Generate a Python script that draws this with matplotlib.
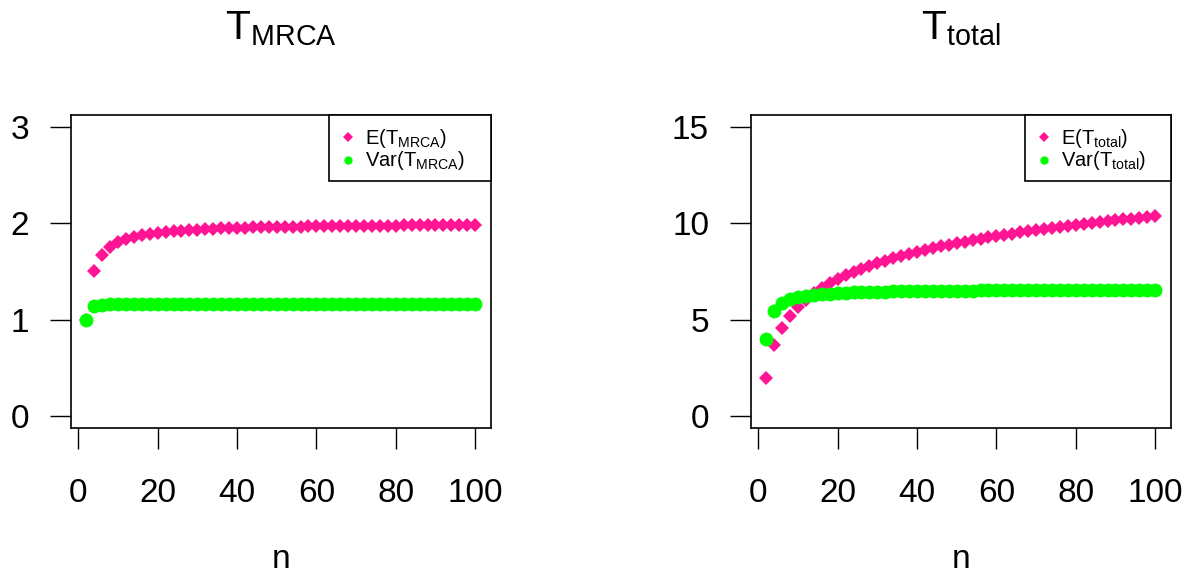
import matplotlib
matplotlib.use("Agg")
import matplotlib.pyplot as plt
from matplotlib.patches import Rectangle

plt.rcParams["font.family"] = "Liberation Sans"
plt.rcParams["mathtext.fontset"] = "custom"
plt.rcParams["mathtext.rm"] = "Liberation Sans"
plt.rcParams["mathtext.it"] = "Liberation Sans:italic"

# sample sizes
n = list(range(2, 101, 2))

# expected time to the most recent common ancestor and its variance
e_tmrca = [
    1.000, 1.500, 1.667, 1.750, 1.800, 1.833, 1.857, 1.875, 1.889, 1.900,
    1.909, 1.917, 1.923, 1.929, 1.933, 1.938, 1.941, 1.944, 1.947, 1.950,
    1.952, 1.955, 1.957, 1.958, 1.960, 1.962, 1.963, 1.964, 1.966, 1.967,
    1.968, 1.969, 1.970, 1.971, 1.971, 1.972, 1.973, 1.974, 1.974, 1.975,
    1.976, 1.976, 1.977, 1.977, 1.978, 1.978, 1.979, 1.979, 1.980, 1.980,
]
var_tmrca = [
    1.000, 1.139, 1.153, 1.157, 1.158, 1.159, 1.159, 1.159, 1.159, 1.159,
    1.159, 1.159, 1.159, 1.160, 1.160, 1.160, 1.160, 1.160, 1.160, 1.160,
    1.160, 1.160, 1.160, 1.160, 1.160, 1.160, 1.160, 1.160, 1.160, 1.160,
    1.160, 1.160, 1.160, 1.160, 1.160, 1.160, 1.160, 1.160, 1.160, 1.160,
    1.160, 1.160, 1.160, 1.160, 1.160, 1.160, 1.160, 1.160, 1.160, 1.160,
]

# total tree length and its variance
e_ttotal = [
    2.00, 3.67, 4.57, 5.19, 5.66, 6.04, 6.36, 6.64, 6.88, 7.10,
    7.29, 7.47, 7.63, 7.78, 7.92, 8.05, 8.18, 8.29, 8.40, 8.51,
    8.61, 8.70, 8.79, 8.88, 8.96, 9.04, 9.11, 9.19, 9.26, 9.33,
    9.39, 9.46, 9.52, 9.58, 9.64, 9.69, 9.75, 9.80, 9.86, 9.91,
    9.96, 10.00, 10.05, 10.10, 10.14, 10.19, 10.23, 10.27, 10.31, 10.35,
]
var_ttotal = [
    4.000, 5.444, 5.855, 6.047, 6.159, 6.232, 6.284, 6.322, 6.351, 6.375,
    6.394, 6.410, 6.423, 6.434, 6.444, 6.453, 6.460, 6.467, 6.473, 6.479,
    6.483, 6.488, 6.492, 6.496, 6.499, 6.502, 6.505, 6.508, 6.510, 6.513,
    6.515, 6.517, 6.519, 6.521, 6.522, 6.524, 6.525, 6.527, 6.528, 6.529,
    6.531, 6.532, 6.533, 6.534, 6.535, 6.536, 6.537, 6.538, 6.539, 6.540,
]

x_ticks = [0, 20, 40, 60, 80, 100]
panels = [
    dict(sub="MRCA", mean=e_tmrca, var=var_tmrca, yticks=[0, 1, 2, 3],
         left=70.7, key_left=329.0),
    dict(sub="total", mean=e_ttotal, var=var_ttotal, yticks=[0, 5, 10, 15],
         left=750.7, key_left=1025.0),
]

PINK = "#FF1493"
GREEN = "#00FF00"
W, H = 1194, 572
AX_W, AX_H = 420.0, 312.7
AX_TOP = 115.0

fig = plt.figure(figsize=(W / 100, H / 100), dpi=100)

for p in panels:
    ax = fig.add_axes([p["left"] / W, (H - AX_TOP - AX_H) / H, AX_W / W, AX_H / H])

    ax.plot(n, p["mean"], ls="none", marker="D", ms=7.6, mew=0, color=PINK)
    ax.plot(n, p["var"], ls="none", marker="o", ms=10, mew=0, color=GREEN)

    # R-style 4% padding around the data range
    xr = (n[-1] - n[0]) * 0.04
    ax.set_xlim(n[0] - xr, n[-1] + xr)
    yr = (p["yticks"][-1] - p["yticks"][0]) * 0.04
    ax.set_ylim(p["yticks"][0] - yr, p["yticks"][-1] + yr)

    ax.set_xticks(x_ticks)
    ax.set_yticks(p["yticks"])
    ax.tick_params(axis="both", direction="out", length=15, width=1.0,
                   labelsize=24, color="black")
    ax.tick_params(axis="x", pad=21)
    ax.tick_params(axis="y", pad=15)
    for s in ax.spines.values():
        s.set_linewidth(1.2)

    sub = p["sub"]
    ax.text(0.5, 1 + 75.7 / AX_H, r"$\mathregular{T_{%s}}$" % sub,
            transform=ax.transAxes, ha="center", va="baseline", fontsize=29.5)
    ax.text(0.5, -(568 - (AX_TOP + AX_H)) / AX_H, "n", transform=ax.transAxes,
            ha="center", va="baseline", fontsize=24)

    # legend box in the top right corner
    kx = (p["key_left"] - p["left"]) / AX_W
    ax.add_patch(Rectangle((kx, 1 - 66 / AX_H), 1 - kx, 66 / AX_H,
                           transform=ax.transAxes, facecolor="white",
                           edgecolor="black", lw=1.2, zorder=5, clip_on=False))
    rows = [
        ("D", 4.6, PINK, r"E($\mathregular{T_{%s}}$)" % sub, 22.0),
        ("o", 6.0, GREEN, r"Var($\mathregular{T_{%s}}$)" % sub, 44.5),
    ]
    for mk, ms, col, label, dy in rows:
        ax.plot([kx + 19 / AX_W], [1 - dy / AX_H], marker=mk, ms=ms, mew=0,
                color=col, transform=ax.transAxes, zorder=6, clip_on=False)
        ax.text(kx + 36 / AX_W, 1 - (dy + 7) / AX_H, label,
                transform=ax.transAxes, ha="left", va="baseline",
                fontsize=14.5, zorder=6)

fig.savefig("out.png", dpi=100)
